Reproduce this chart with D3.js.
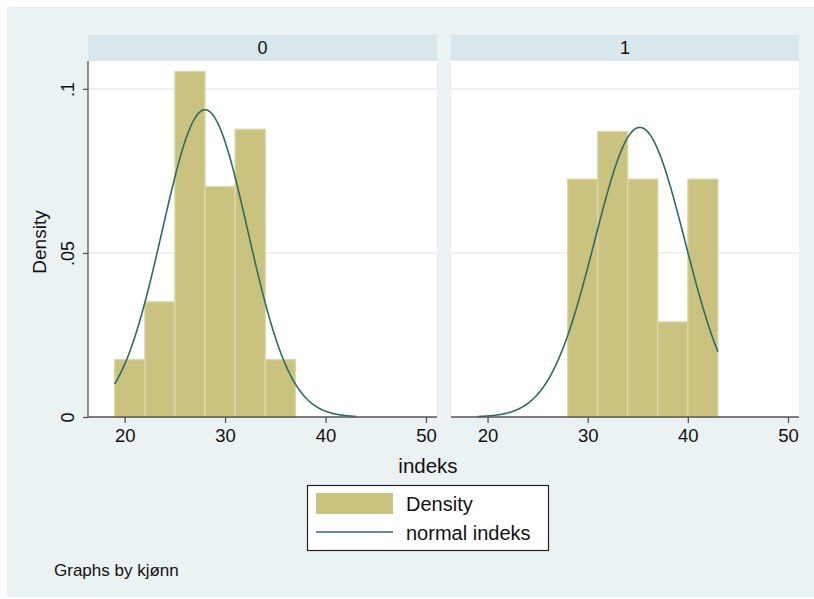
<!DOCTYPE html>
<meta charset="utf-8" />
<title>Histogram of indeks by kjønn</title>
<style>
  body { margin: 0; background: #fff; }
  text { font-family: "Liberation Sans", Arial, sans-serif; fill: #111; }
</style>
<body>
<svg width="814" height="599"></svg>
<script src="https://d3js.org/d3.v7.min.js"></script>
<script>
  // data
  const panels = ["0", "1"];
  const binWidth = 3;
  const bins0 = [19, 22, 25, 28, 31, 34];
  const dens0 = [0.0175, 0.0351, 0.1053, 0.0702, 0.0877, 0.0175];
  const bins1 = [28, 31, 34, 37, 40];
  const dens1 = [0.0725, 0.0870, 0.0725, 0.0290, 0.0725];
  const normMean = [28.0, 35.2];
  const normSD = [4.26, 4.52];
  const curveRange = [19, 43];
  const xTicks = [20, 30, 40, 50];
  const yTicks = [0, 0.05, 0.1];
  const yTickLabels = ["0", ".05", ".1"];
  const gridTicks = [0.05, 0.1];

  const barFill = "#cac27f", barEdge = "#dcd7a8", curveColor = "#2f6d61";

  const svg = d3.select("svg");

  // graph region background
  svg.append("rect")
    .attr("x", 7).attr("y", 7).attr("width", 807).attr("height", 590)
    .attr("fill", "#eaf2f3");

  const plotTop = 61, plotBottom = 417;
  const panelX = [[88, 437], [451, 799]];
  const y = d3.scaleLinear().domain([0, 0.1085]).range([plotBottom, plotTop]);

  const histData = [
    bins0.map((b, i) => ({ x0: b, x1: b + binWidth, d: dens0[i] })),
    bins1.map((b, i) => ({ x0: b, x1: b + binWidth, d: dens1[i] }))
  ];

  panels.forEach((p, k) => {
    const [px0, px1] = panelX[k];
    const x = d3.scaleLinear().domain([16.35, 51.1]).range([px0, px1]);
    const g = svg.append("g");

    // strip
    g.append("rect")
      .attr("x", px0).attr("y", 35).attr("width", px1 - px0).attr("height", plotTop - 35)
      .attr("fill", "#d9e6eb");
    g.append("text")
      .attr("x", (px0 + px1) / 2).attr("y", 54)
      .attr("text-anchor", "middle")
      .attr("font-size", 18)
      .text(p);

    // plot area
    g.append("rect")
      .attr("x", px0).attr("y", plotTop).attr("width", px1 - px0).attr("height", plotBottom - plotTop)
      .attr("fill", "#fff");

    // grid
    g.selectAll("line.grid")
      .data(gridTicks)
      .join("line")
      .attr("class", "grid")
      .attr("x1", px0).attr("x2", px1)
      .attr("y1", d => y(d)).attr("y2", d => y(d))
      .attr("stroke", "#eaeaea").attr("stroke-width", 1.2);

    // bars
    g.selectAll("rect.bar")
      .data(histData[k])
      .join("rect")
      .attr("class", "bar")
      .attr("x", d => x(d.x0))
      .attr("y", d => y(d.d))
      .attr("width", d => x(d.x1) - x(d.x0))
      .attr("height", d => y(0) - y(d.d))
      .attr("fill", barFill)
      .attr("stroke", barEdge)
      .attr("stroke-width", 1.3);

    // normal curve
    const m = normMean[k], s = normSD[k];
    const pdf = v => Math.exp(-0.5 * ((v - m) / s) ** 2) / (s * Math.sqrt(2 * Math.PI));
    const pts = d3.range(curveRange[0], curveRange[1] + 0.001, 0.1);
    g.append("path")
      .attr("d", d3.line().x(v => x(v)).y(v => y(pdf(v)))(pts))
      .attr("fill", "none")
      .attr("stroke", curveColor)
      .attr("stroke-width", 1.6);

    // x axis
    const xa = g.append("g")
      .attr("transform", `translate(0,${plotBottom})`)
      .call(d3.axisBottom(x).tickValues(xTicks).tickSize(6).tickPadding(6).tickFormat(d3.format("d")));
    xa.select(".domain").attr("d", `M${px0},0H${px1}`).attr("stroke", "#555").attr("stroke-width", 1.3);
    xa.selectAll(".tick line").attr("stroke", "#555").attr("stroke-width", 1.3);
    xa.selectAll(".tick text")
      .attr("font-family", "Liberation Sans, Arial, sans-serif")
      .attr("font-size", 18.5).attr("fill", "#111");

    if (k === 0) {
      const ya = g.append("g")
        .attr("transform", `translate(${px0},0)`)
        .call(d3.axisLeft(y).tickValues(yTicks).tickSize(5).tickFormat((d, i) => yTickLabels[i]));
      ya.select(".domain").attr("d", `M0,${plotTop}V${plotBottom}`).attr("stroke", "#555").attr("stroke-width", 1.3);
      ya.selectAll(".tick line").attr("stroke", "#555").attr("stroke-width", 1.3);
      ya.selectAll(".tick text")
        .attr("font-family", "Liberation Sans, Arial, sans-serif")
        .attr("font-size", 18).attr("fill", "#111")
        .attr("x", null).attr("dy", null)
        .attr("text-anchor", "middle")
        .attr("transform", "translate(-14,0) rotate(-90)");
    }
  });

  // axis titles
  svg.append("text")
    .attr("transform", "translate(46,242) rotate(-90)")
    .attr("text-anchor", "middle")
    .attr("font-size", 19)
    .text("Density");
  svg.append("text")
    .attr("x", 428).attr("y", 473)
    .attr("text-anchor", "middle")
    .attr("font-size", 20.5)
    .text("indeks");

  // legend
  const leg = svg.append("g");
  leg.append("rect")
    .attr("x", 307.5).attr("y", 485.5).attr("width", 241).attr("height", 65)
    .attr("fill", "#fff").attr("stroke", "#222").attr("stroke-width", 1.2);
  leg.append("rect")
    .attr("x", 316).attr("y", 493).attr("width", 77).attr("height", 21)
    .attr("fill", barFill);
  leg.append("line")
    .attr("x1", 316).attr("x2", 393).attr("y1", 532).attr("y2", 532)
    .attr("stroke", curveColor).attr("stroke-width", 1.6);
  leg.append("text").attr("x", 406).attr("y", 511).attr("font-size", 20).text("Density");
  leg.append("text").attr("x", 406).attr("y", 540).attr("font-size", 20).text("normal indeks");

  // note
  svg.append("text")
    .attr("x", 54).attr("y", 576)
    .attr("font-size", 17)
    .text("Graphs by kjønn");
</script>
</body>
